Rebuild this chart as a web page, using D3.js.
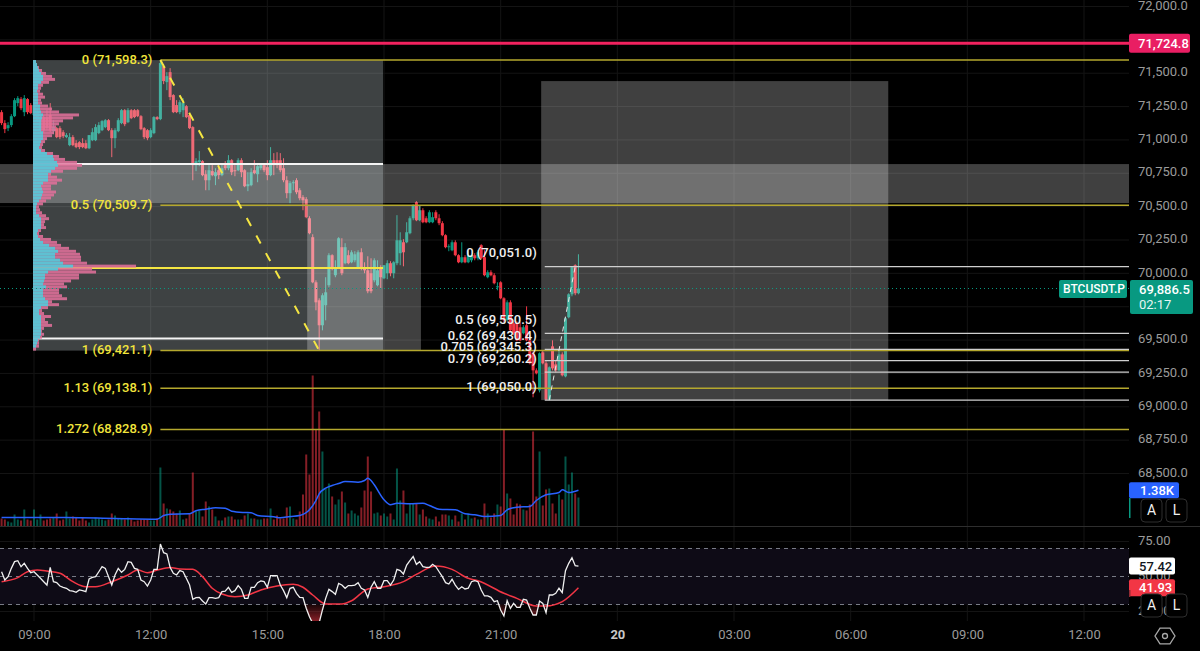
<!DOCTYPE html>
<html>
<head>
<meta charset="utf-8">
<script src="https://cdn.jsdelivr.net/npm/d3@7"></script>
<style>
  html, body { margin: 0; padding: 0; background: #000; overflow: hidden; }
  text { font-family: Roboto, sans-serif; }
</style>
</head>
<body>
<svg></svg>
<script>
// [open, high, low, close] per 5 min bar, first bar is ten bars before 09:00
let ohlc = [
  [71208,71223,71111,71126],[71126,71148,71051,71081],[71088,71133,71066,71111],[71111,71193,71096,71178],[71178,71313,71171,71298],
  [71276,71328,71253,71313],[71306,71321,71223,71238],[71208,71336,71178,71313],[71306,71313,71193,71208],[71261,71276,71193,71201],
  [71186,71298,71148,71261],[71148,71238,71133,71208],[71073,71186,71051,71171],[71171,71186,71051,71073],[71171,71223,71073,71088],
  [71186,71276,71058,71073],[71066,71148,71043,71096],[71088,71096,71013,71021],[71088,71103,71006,71021],[71058,71073,71013,71028],
  [71021,71051,71013,71036],[70961,71051,70953,71021],[71021,71036,70953,70961],[70976,70998,70938,70946],[70983,70991,70931,70946],
  [70976,71013,70938,70946],[70976,70998,70931,70938],[70938,71036,70931,71036],[70998,71088,70991,71058],[70998,71118,70991,71096],
  [71051,71133,71043,71111],[71073,71148,71066,71141],[71096,71156,71088,71148],[71148,71156,71066,71073],[71073,71088,70871,71013],
  [71013,71088,70938,71073],[71066,71163,71058,71148],[71126,71231,71118,71223],[71223,71231,71103,71118],[71133,71238,71126,71223],
  [71223,71231,71156,71163],[71223,71231,71163,71171],[71223,71231,71171,71178],[71178,71186,71073,71081],[71088,71096,71006,71021],
  [71073,71081,70998,71013],[71021,71088,71013,71073],[71051,71178,71043,71171],[71171,71178,71148,71156],[71156,71598,71148,71576],
  [71553,71568,71418,71441],[71433,71508,71373,71478],[71508,71538,71298,71321],[71336,71343,71201,71208],[71261,71298,71201,71208],
  [71208,71298,71193,71283],[71223,71313,71171,71276],[71253,71261,71163,71171],[71186,71201,71081,71088],[71096,71103,70698,70811],
  [70811,70863,70766,70841],[70833,70916,70803,70848],[70841,70848,70728,70736],[70743,70773,70623,70698],[70698,70811,70623,70773],
  [70766,70811,70728,70736],[70728,70788,70661,70758],[70773,70826,70706,70736],[70736,70826,70728,70788],[70811,70841,70773,70788],
  [70788,70886,70773,70848],[70848,70856,70736,70758],[70773,70811,70728,70766],[70773,70863,70766,70848],[70848,70863,70721,70758],
  [70773,70781,70646,70653],[70653,70758,70616,70668],[70661,70788,70653,70758],[70773,70848,70743,70751],[70743,70811,70683,70803],
  [70788,70826,70773,70811],[70811,70826,70758,70773],[70796,70848,70698,70736],[70736,70946,70728,70848],[70848,70901,70736,70811],
  [70848,70908,70788,70811],[70848,70901,70758,70773],[70788,70863,70683,70698],[70698,70728,70563,70601],[70601,70691,70526,70676],
  [70676,70698,70623,70683],[70698,70713,70593,70608],[70623,70638,70548,70563],[70571,70586,70473,70548],[70556,70571,70413,70421],
  [70413,70428,70293,70301],[70271,70293,69926,69933],[69933,69948,69723,69783],[69798,69813,69423,69611],[69611,69851,69573,69836],
  [69761,69971,69648,69858],[69911,70151,69896,70136],[70136,70143,70023,70038],[69986,70098,69971,70046],[70046,70271,70038,70263],
  [70196,70263,69986,70001],[70076,70226,70068,70196],[70136,70173,70068,70076],[70083,70173,70076,70158],[70098,70166,70083,70143],
  [70046,70173,70038,70158],[70158,70188,70023,70038],[70038,70083,70001,70023],[70023,70128,69851,69866],[70001,70113,69851,69866],
  [69948,70113,69933,70098],[69911,70098,69903,70023],[70046,70061,69888,69971],[69963,70061,69956,70061],[70001,70098,69956,70076],
  [70076,70091,69978,70001],[70001,70091,69963,70083],[70076,70436,70061,70248],[70151,70308,70061,70248],[70233,70256,70053,70158],
  [70233,70383,70226,70308],[70301,70428,70293,70413],[70413,70518,70398,70511],[70533,70541,70391,70398],[70398,70511,70391,70473],
  [70473,70488,70376,70383],[70413,70428,70376,70383],[70383,70473,70376,70458],[70383,70458,70376,70421],[70458,70473,70398,70413],
  [70413,70443,70361,70376],[70376,70391,70278,70286],[70286,70293,70188,70196],[70196,70218,70166,70203],[70173,70248,70166,70233],
  [70233,70248,70128,70136],[70136,70143,70076,70083],[70083,70233,70076,70121],[70121,70136,70076,70083],[70083,70173,70076,70136],
  [70098,70143,70083,70136],[70136,70151,70098,70113],[70113,70173,70098,70158],[70211,70218,70106,70113],[70121,70173,69978,69986],
  [69971,70023,69963,70008],[70008,70023,69978,69986],[69986,70001,69918,69926],[69896,69933,69873,69903],[69933,69941,69806,69813],
  [69813,69821,69633,69648],[69648,69798,69641,69783],[69783,69798,69566,69573],[69626,69648,69536,69551],[69626,69641,69491,69498],
  [69596,69633,69491,69498],[69551,69611,69543,69596],[69611,69753,69491,69498],[69498,69536,69318,69326],[69401,69423,69071,69273],
  [69273,69288,69243,69251],[69123,69408,69108,69401],[69408,69423,69318,69326],[69326,69341,69050,69055],[69055,69303,69050,69296],
  [69453,69498,69273,69288],[69318,69348,69258,69273],[69273,69423,69266,69393],[69393,69408,69228,69236],[69228,69671,69221,69663],
  [69671,69851,69663,69843],[69843,70053,69828,70046],[70061,70068,69836,69851],[69851,70143,69843,69886.5]
]

let volumes = [
  304,266,190,152,456,266,228,646,266,228,
  646,266,456,228,266,304,342,494,228,266,
  570,304,380,342,228,342,228,152,266,342,
  304,266,228,266,494,418,304,304,266,342,
  266,190,228,266,266,266,228,228,304,2242,
  874,684,646,570,494,608,266,304,494,2052,
  570,608,380,950,760,646,380,228,228,342,
  380,380,266,266,266,418,494,304,304,266,
  266,304,304,684,266,418,304,304,722,760,
  304,266,570,1216,2736,1976,5738,3686,4370,2850,
  1444,1634,1140,836,1026,1330,912,494,608,494,
  418,722,1368,2660,1330,494,532,418,494,380,
  494,266,2204,988,1368,494,874,874,874,456,
  646,380,304,266,380,190,456,456,418,266,
  418,190,494,266,494,304,342,266,266,874,
  494,342,494,836,760,3686,1254,1064,456,874,
  836,646,608,836,3610,1140,2850,798,1406,1444,
  874,494,1216,1026,2660,1596,2052,1254,1102
]

let volumeMaBars = [-10,10,25,38,40,42,48,50,53,56,59,61,65,67,69,74,76,79,82,85,87,88,90,92,94,96,100,102,103,104,105,108,110,112,116,120,122,125,130,133,136,139,144,146,149,153,155,158,162,163,165,168]
let volumeMa = [342,342,304,277,418,467,483,597,657,711,695,581,532,521,418,369,331,380,418,635,988,1243,1455,1558,1634,1710,1683,1748,1835,1748,1585,1015,825,885,863,885,798,657,635,483,445,380,418,635,733,760,988,1205,1292,1395,1292,1380]

let rsi = [
  53.4,47.5,49.9,55.8,60.6,61.3,57.0,59.4,55.8,52.7,
  53.4,51.1,48.7,46.3,43.9,56.5,46.3,45.6,43.2,42.3,
  41.6,39.9,39.6,38.7,40.4,39.9,39.2,48.2,49.4,49.9,
  53.4,57.0,55.8,49.9,43.9,51.1,55.8,53.0,55.1,60.6,
  60.1,55.8,55.1,47.5,46.3,43.2,47.5,55.1,55.1,73.2,
  67.0,66.1,56.5,52.3,51.1,54.2,53.4,48.7,43.9,33.7,
  34.9,35.1,32.5,30.4,34.9,34.9,34.4,34.9,39.2,39.6,
  42.3,38.7,39.9,43.5,40.8,34.4,34.4,42.3,42.3,45.6,
  46.8,46.3,42.3,50.6,50.6,50.6,43.9,39.9,34.9,41.6,
  42.3,38.0,35.1,34.9,27.3,21.3,16.6,15.4,17.0,26.1,
  34.4,40.8,39.2,37.3,45.1,43.9,41.6,43.5,43.5,43.9,
  45.6,41.6,40.4,35.1,42.3,46.3,41.6,41.6,47.0,47.0,
  43.9,47.5,55.1,54.2,51.8,58.2,61.3,64.2,58.7,60.6,
  57.0,56.5,56.5,58.7,57.0,53.4,49.9,45.6,44.6,48.0,
  43.9,40.8,42.7,41.1,41.6,46.3,47.0,46.3,40.4,36.1,
  36.1,35.1,32.0,32.7,26.1,21.8,32.7,27.3,30.8,28.0,
  28.0,33.7,33.2,27.3,22.5,22.5,32.5,30.8,24.2,36.8,
  36.8,38.0,41.6,38.5,54.2,59.4,63.4,57.7,57.42
]

let rsiMaBars = [-10,-5,-2,1,4,8,12,16,19,24,29,32,35,38,42,45,49,52,55,58,62,66,70,75,80,83,86,90,95,98,103,108,114,118,124,129,134,137,145,149,155,158,163,168]
let rsiMa = [46.3,49.2,53.4,54.6,53.9,52.3,46.3,42.7,42.7,46.3,51.1,54.6,52.7,54.6,56.5,55.4,55.1,49.9,41.6,37.5,35.6,36.8,40.4,43.2,44.4,42.3,36.8,30.4,30.4,32.7,41.1,42.7,46.3,51.5,57.5,55.1,48.7,47.0,38.0,34.4,28.9,28.9,32.0,41.93]

// volume profile, top row to bottom row
let profileTotal = [
  3,4,6,9,13,19,22,16,10,8,7,10,12,8,9,15,19,26,46,40,30,26,23,23,21,19,14,12,10,9,12,20,26,32,44,49,44,30,18,24,29,24,18,18,23,21,18,13,10,6,
  7,9,13,16,12,11,13,8,6,10,18,24,28,36,43,47,48,48,54,103,59,63,46,46,38,31,34,26,26,29,34,19,26,15,9,11,18,12,15,19,11,9,11,9,6,6,6,3
]
let profileUp = [
  3,4,5,6,8,10,10,8,5,5,4,5,5,5,5,7,7,8,10,9,8,8,8,8,10,10,10,8,7,6,8,14,20,21,24,25,22,18,15,15,15,10,8,9,10,9,8,6,4,3,
  3,3,6,8,8,8,8,5,4,5,7,10,16,22,25,22,22,27,30,40,25,15,12,12,11,10,13,10,10,10,12,15,15,8,6,6,8,8,8,8,8,8,8,7,5,4,3,0
]

let priceTicks = [72000,71750,71500,71250,71000,70750,70500,70250,70000,69750,69500,69250,69000,68750,68500]
let rsiTicks = [75,50,25]
let timeLabels = ['09:00','12:00','15:00','18:00','21:00','20','03:00','06:00','09:00','12:00']

let fibALevels = ['0','0.5','1','1.13','1.272']
let fibAPrices = [71598.3,70509.7,69421.1,69138.1,68828.9]
let fibBLevels = ['0','0.5','0.62','0.705','0.79','1']
let fibBPrices = [70051.0,69550.5,69430.4,69345.3,69260.2,69050.0]

let highPrice = 71724.8
let lastPrice = 69886.5
let lastVolumeMa = '1.38K'
let lastRsi = 57.42
let lastRsiMa = 41.93
let symbol = 'BTCUSDT.P'
let countdown = '02:17'

// left bar, right bar, top price, bottom price
let profileBox = [-0.3, 107.7, 71598.3, 69421.1]
let zoneBox = [84.3, 119.4, 70509.7, 69421.1]
let targetBox = [156.5, 263.6, 71441, 69050]
let supplyBand = [70819, 70527]
let valueLines = [70819, 69511]
let pocPrice = 70040

let width = 1200
let height = 651
let plotRight = 1129

let svg = d3.select('svg')
  .attr('width', width)
  .attr('height', height)
  .style('display', 'block')
  .style('background', '#000')

let t0 = new Date(2024, 2, 19, 9, 0).getTime()
let barTime = (bar) => new Date(t0 + bar * 5 * 60000)
let tickTimes = timeLabels.map((d, i) => new Date(t0 + i * 3 * 3600000))

let x = d3.scaleTime()
  .domain([tickTimes[0], tickTimes[9]])
  .range([34, 1084])
let xBar = (bar) => x(barTime(bar))

let y = d3.scaleLinear().domain([72000, 68500]).range([6.5, 473.5])
let yVolume = d3.scaleLinear().domain([0, 5738]).range([526.5, 375.5])
let yRsi = d3.scaleLinear().domain([70, 30]).range([548.5, 604.5])

let up = '#089981'
let down = '#f23645'
let fmt = d3.format(',.1f')
let fibLabel = (level, price) => level + ' (' + fmt(price) + ')'

let defs = svg.append('defs')
defs.append('clipPath').attr('id', 'rsi-clip').append('rect')
  .attr('x', 0).attr('y', 527).attr('width', plotRight).attr('height', 94)
let oversold = defs.append('linearGradient').attr('id', 'oversold')
  .attr('gradientUnits', 'userSpaceOnUse')
  .attr('x1', 0).attr('x2', 0).attr('y1', yRsi(30)).attr('y2', 621)
oversold.append('stop').attr('offset', 0).attr('stop-color', down).attr('stop-opacity', 0.1)
oversold.append('stop').attr('offset', 1).attr('stop-color', down).attr('stop-opacity', 0.55)

let drawGrid = () => {
  let grid = svg.append('g').attr('stroke', '#141414').attr('stroke-width', 1)
  grid.selectAll('.v').data(tickTimes).enter().append('line')
    .attr('x1', (d) => x(d)).attr('x2', (d) => x(d))
    .attr('y1', 0).attr('y2', 621)
  grid.selectAll('.h').data(priceTicks).enter().append('line')
    .attr('x1', 0).attr('x2', plotRight)
    .attr('y1', (d) => y(d)).attr('y2', (d) => y(d))
  grid.selectAll('.r').data(rsiTicks).enter().append('line')
    .attr('x1', 0).attr('x2', plotRight)
    .attr('y1', (d) => yRsi(d)).attr('y2', (d) => yRsi(d))
}

let drawVolume = () => {
  svg.append('g').selectAll('rect').data(volumes).enter().append('rect')
    .attr('x', (d, i) => xBar(i - 10) - 1)
    .attr('width', 2)
    .attr('y', (d) => yVolume(d))
    .attr('height', (d) => yVolume(0) - yVolume(d))
    .attr('fill', (d, i) => ohlc[i][3] >= ohlc[i][0] ? up : down)
    .attr('opacity', 0.55)

  let line = d3.line()
    .x((d, i) => xBar(volumeMaBars[i]))
    .y((d) => yVolume(d))
    .curve(d3.curveMonotoneX)
  svg.append('path').datum(volumeMa)
    .attr('d', line)
    .attr('fill', 'none')
    .attr('stroke', '#2962ff')
    .attr('stroke-width', 1.5)
}

let drawCandles = () => {
  let g = svg.append('g')
  let color = (d) => d[3] >= d[0] ? up : down
  g.selectAll('line').data(ohlc).enter().append('line')
    .attr('x1', (d, i) => xBar(i - 10)).attr('x2', (d, i) => xBar(i - 10))
    .attr('y1', (d) => y(d[1])).attr('y2', (d) => y(d[2]))
    .attr('stroke', color)
  g.selectAll('rect').data(ohlc).enter().append('rect')
    .attr('x', (d, i) => xBar(i - 10) - 1.5)
    .attr('width', 3)
    .attr('y', (d) => y(Math.max(d[0], d[3])))
    .attr('height', (d) => Math.max(1, Math.abs(y(d[0]) - y(d[3]))))
    .attr('fill', color)
}

let drawBoxes = () => {
  let tint = (box, fill) => svg.append('rect')
    .attr('x', xBar(box[0])).attr('width', xBar(box[1]) - xBar(box[0]))
    .attr('y', y(box[2])).attr('height', y(box[3]) - y(box[2]))
    .attr('fill', fill)
  svg.append('rect')
    .attr('x', 0).attr('width', plotRight)
    .attr('y', y(supplyBand[0])).attr('height', y(supplyBand[1]) - y(supplyBand[0]))
    .attr('fill', 'rgba(255,255,255,0.25)')
  tint(profileBox, 'rgba(230,245,248,0.27)')
  tint(zoneBox, 'rgba(255,255,255,0.25)')
  tint(targetBox, 'rgba(255,255,255,0.25)')
}

let drawProfile = () => {
  let left = xBar(profileBox[0])
  let xProfile = d3.scaleLinear().domain([0, 103]).range([left, left + 103])
  let rows = d3.scaleBand()
    .domain(d3.range(profileTotal.length))
    .range([y(profileBox[2]), y(profileBox[3])])

  svg.append('line')
    .attr('x1', xBar(profileBox[0])).attr('x2', xBar(profileBox[1]))
    .attr('y1', y(valueLines[0])).attr('y2', y(valueLines[0]))
    .attr('stroke', '#f4f4f4').attr('stroke-width', 2)
  svg.append('line')
    .attr('x1', xBar(profileBox[0])).attr('x2', xBar(profileBox[1]))
    .attr('y1', y(valueLines[1])).attr('y2', y(valueLines[1]))
    .attr('stroke', '#f4f4f4').attr('stroke-width', 2)
  svg.append('line')
    .attr('x1', xBar(profileBox[0])).attr('x2', xBar(profileBox[1]))
    .attr('y1', y(pocPrice)).attr('y2', y(pocPrice))
    .attr('stroke', '#f5e642').attr('stroke-width', 2)

  svg.append('g').selectAll('rect').data(profileTotal).enter().append('rect')
    .attr('x', left)
    .attr('width', (d) => xProfile(d) - left)
    .attr('y', (d, i) => rows(i))
    .attr('height', rows.bandwidth())
    .attr('fill', '#e0709a')
    .attr('opacity', 0.88)
  svg.append('g').selectAll('rect').data(profileUp).enter().append('rect')
    .attr('x', left)
    .attr('width', (d) => xProfile(d) - left)
    .attr('y', (d, i) => rows(i))
    .attr('height', rows.bandwidth())
    .attr('fill', '#56c8d8')
    .attr('opacity', 0.92)
}

let drawFibs = () => {
  let a = svg.append('g')
  a.selectAll('line').data(fibAPrices).enter().append('line')
    .attr('x1', xBar(39)).attr('x2', plotRight)
    .attr('y1', (d) => y(d)).attr('y2', (d) => y(d))
    .attr('stroke', '#b5a82e').attr('stroke-width', 1.5)
  a.selectAll('text').data(fibAPrices).enter().append('text')
    .attr('x', xBar(39) - 8)
    .attr('y', (d) => y(d) - 1)
    .attr('dy', '0.35em')
    .attr('text-anchor', 'end')
    .attr('font-size', 13)
    .attr('font-weight', 500)
    .attr('fill', '#f2e53c')
    .text((d, i) => fibLabel(fibALevels[i], d))

  svg.append('line')
    .attr('x1', xBar(39)).attr('x2', xBar(88))
    .attr('y1', y(fibAPrices[0])).attr('y2', y(fibAPrices[2]))
    .attr('stroke', '#f5e642').attr('stroke-width', 2)
    .attr('stroke-dasharray', '9 11')

  let b = svg.append('g')
  b.selectAll('line').data(fibBPrices).enter().append('line')
    .attr('x1', xBar(157.6)).attr('x2', plotRight)
    .attr('y1', (d) => y(d)).attr('y2', (d) => y(d))
    .attr('stroke', '#cfcfcf').attr('stroke-width', 1.2)
  b.selectAll('text').data(fibBPrices).enter().append('text')
    .attr('x', xBar(157.6) - 8)
    .attr('y', (d) => y(d) - 14)
    .attr('dy', '0.35em')
    .attr('text-anchor', 'end')
    .attr('font-size', 13)
    .attr('font-weight', 500)
    .attr('fill', '#f0f0f0')
    .text((d, i) => fibLabel(fibBLevels[i], d))

  svg.append('line')
    .attr('x1', xBar(159)).attr('x2', xBar(167))
    .attr('y1', y(fibBPrices[5])).attr('y2', y(fibBPrices[0]))
    .attr('stroke', '#e8e8e8').attr('stroke-width', 1)
    .attr('stroke-dasharray', '5 5')

  svg.append('line')
    .attr('x1', 0).attr('x2', plotRight)
    .attr('y1', y(highPrice)).attr('y2', y(highPrice))
    .attr('stroke', '#f2225f').attr('stroke-width', 3)

  svg.append('line')
    .attr('x1', 0).attr('x2', plotRight)
    .attr('y1', y(lastPrice)).attr('y2', y(lastPrice))
    .attr('stroke', up).attr('stroke-width', 1)
    .attr('stroke-dasharray', '1 3')
}

let drawRsi = () => {
  let g = svg.append('g').attr('clip-path', 'url(#rsi-clip)')
  g.append('rect')
    .attr('x', 0).attr('width', plotRight)
    .attr('y', yRsi(70)).attr('height', yRsi(30) - yRsi(70))
    .attr('fill', '#0e0b16')
  g.selectAll('.level').data([70, 50, 30]).enter().append('line')
    .attr('x1', 0).attr('x2', plotRight)
    .attr('y1', (d) => yRsi(d)).attr('y2', (d) => yRsi(d))
    .attr('stroke', '#787b86').attr('stroke-dasharray', '4 4')

  let area = d3.area()
    .x((d, i) => xBar(i - 10))
    .y0(yRsi(30))
    .y1((d) => yRsi(Math.min(d, 30)))
  g.append('path').datum(rsi).attr('d', area).attr('fill', 'url(#oversold)')

  let maLine = d3.line()
    .x((d, i) => xBar(rsiMaBars[i]))
    .y((d) => yRsi(d))
    .curve(d3.curveMonotoneX)
  g.append('path').datum(rsiMa)
    .attr('d', maLine).attr('fill', 'none')
    .attr('stroke', '#f23645').attr('stroke-width', 1.5)

  let line = d3.line()
    .x((d, i) => xBar(i - 10))
    .y((d) => yRsi(d))
  g.append('path').datum(rsi)
    .attr('d', line).attr('fill', 'none')
    .attr('stroke', '#f0f0f0').attr('stroke-width', 1.3)
}

let drawAxes = () => {
  svg.append('line')
    .attr('x1', 0).attr('x2', width).attr('y1', 526.5).attr('y2', 526.5)
    .attr('stroke', '#2e2e2e')

  let priceAxis = d3.axisRight(y)
    .tickValues(priceTicks)
    .tickFormat(fmt)
    .tickSize(0)
    .tickPadding(0)
  let gp = svg.append('g')
    .attr('transform', 'translate(1138, -1.5)')
    .call(priceAxis)
  gp.select('.domain').remove()

  let rsiAxis = d3.axisRight(yRsi)
    .tickValues(rsiTicks)
    .tickFormat(d3.format('.2f'))
    .tickSize(0)
    .tickPadding(0)
  let gr = svg.append('g')
    .attr('transform', 'translate(1138, -1.5)')
    .call(rsiAxis)
  gr.select('.domain').remove()

  let timeAxis = d3.axisBottom(x)
    .tickValues(tickTimes)
    .tickFormat((d, i) => timeLabels[i])
    .tickSize(0)
    .tickPadding(8)
  let gt = svg.append('g')
    .attr('transform', 'translate(0, 622)')
    .call(timeAxis)
  gt.select('.domain').remove()

  svg.selectAll('.tick text')
    .attr('font-family', 'Roboto, sans-serif')
    .attr('font-size', 13)
    .attr('fill', '#9b9b9b')
  gt.selectAll('.tick text')
    .filter((d, i) => timeLabels[i] === '20')
    .attr('font-weight', 700)
    .attr('fill', '#c8c8c8')
}

let tag = (x0, w, y0, h, fill, label, color, pad, size) => {
  svg.append('rect')
    .attr('x', x0).attr('y', y0).attr('width', w).attr('height', h)
    .attr('rx', 2)
    .attr('fill', fill)
  svg.append('text')
    .attr('x', x0 + pad).attr('y', y0 + h / 2)
    .attr('dy', '0.35em')
    .attr('font-size', size || 13)
    .attr('font-weight', 500)
    .attr('fill', color)
    .text(label)
}

let button = (x0, y0, label) => {
  svg.append('rect')
    .attr('x', x0).attr('y', y0).attr('width', 21).attr('height', 23)
    .attr('rx', 4)
    .attr('fill', '#000').attr('stroke', '#2e2e2e')
  svg.append('text')
    .attr('x', x0 + 10.5).attr('y', y0 + 11.5)
    .attr('dy', '0.35em')
    .attr('text-anchor', 'middle')
    .attr('font-size', 14)
    .attr('fill', '#f0f0f0')
    .text(label)
}

let drawTags = () => {
  tag(1129, 61, y(highPrice) - 9.5, 19, '#e91e63', fmt(highPrice), '#fff', 9)

  svg.append('rect')
    .attr('x', 1130).attr('y', y(lastPrice) - 8.5).attr('width', 63).attr('height', 34)
    .attr('rx', 2).attr('fill', up)
  svg.append('text')
    .attr('x', 1139).attr('y', y(lastPrice) + 0.5).attr('dy', '0.35em')
    .attr('font-size', 13).attr('font-weight', 500).attr('fill', '#fff')
    .text(fmt(lastPrice))
  svg.append('text')
    .attr('x', 1139).attr('y', y(lastPrice) + 16).attr('dy', '0.35em')
    .attr('font-size', 13).attr('fill', '#e6f5f2')
    .text(countdown)
  tag(1059, 68, y(lastPrice) - 8.5, 18, up, symbol, '#fff', 4, 12)

  tag(1129, 50, yVolume(1380) - 8, 16, '#2962ff', lastVolumeMa, '#fff', 11)
  svg.append('rect')
    .attr('x', 1129).attr('y', 498).attr('width', 1.5).attr('height', 20).attr('fill', up)
  button(1141, 499, 'A')
  button(1166, 499, 'L')

  tag(1129, 46, yRsi(lastRsi) - 8.5, 17, '#fff', lastRsi.toFixed(2), '#131722', 10)
  tag(1129, 46, yRsi(lastRsiMa) - 8.5, 17, down, lastRsiMa.toFixed(2), '#fff', 10)
  svg.append('rect')
    .attr('x', 1129).attr('y', 590).attr('width', 1.5).attr('height', 7).attr('fill', '#8f2b33')
  button(1141, 594, 'A')
  button(1166, 594, 'L')

  let hex = d3.range(6).map((i) => [1165 + 10 * Math.cos(i * Math.PI / 3), 636 + 9 * Math.sin(i * Math.PI / 3)])
  svg.append('path')
    .attr('d', d3.line().curve(d3.curveLinearClosed)(hex))
    .attr('fill', 'none').attr('stroke', '#a8a8a8').attr('stroke-width', 1.3)
  svg.append('circle')
    .attr('cx', 1165).attr('cy', 636).attr('r', 2.5)
    .attr('fill', 'none').attr('stroke', '#a8a8a8').attr('stroke-width', 1.3)
}

drawGrid()
drawVolume()
drawCandles()
drawBoxes()
drawProfile()
drawFibs()
drawRsi()
drawAxes()
drawTags()
</script>
</body>
</html>
